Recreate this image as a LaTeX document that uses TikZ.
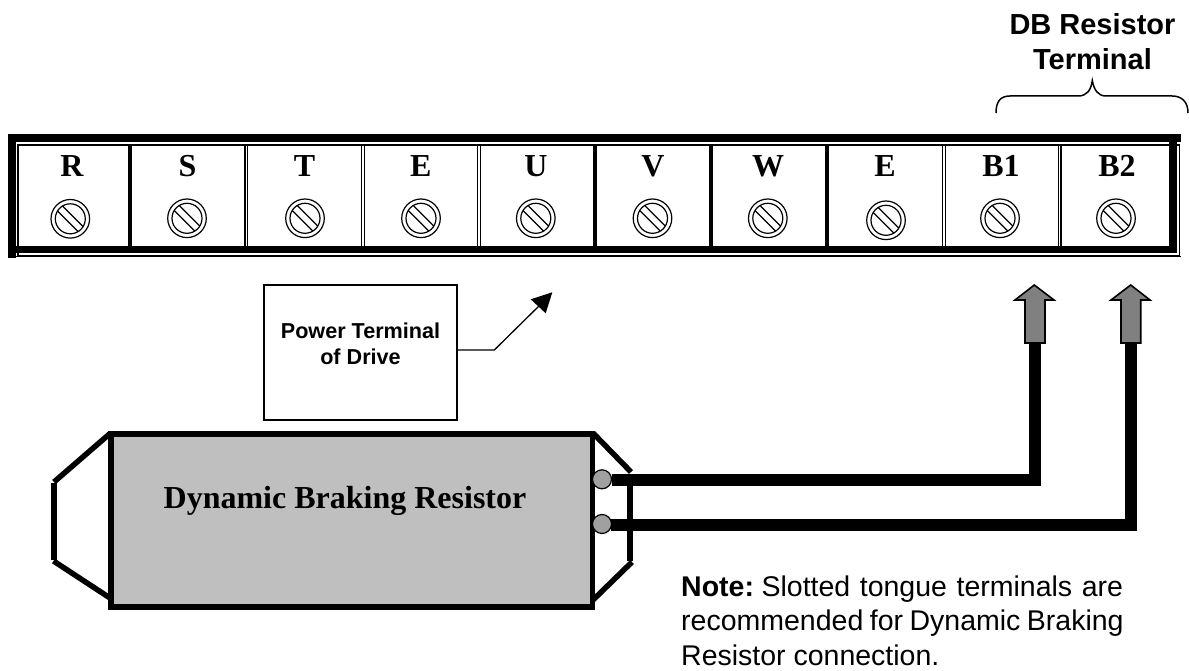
\documentclass[tikz,border=0pt]{standalone}
\usepackage{fontspec}
\setmainfont{Liberation Serif}
\setsansfont{Liberation Sans}
\definecolor{casefill}{HTML}{BFBFBF}
\definecolor{pinfill}{HTML}{A0A0A0}
\definecolor{arrowfill}{HTML}{808080}
\tikzset{
 x=1pt,y=-1pt,
 divider/.style={line width=1.2pt,draw=black},
 tlabel/.style={font=\bfseries\fontsize{32}{32}\selectfont,inner sep=0pt},
 wire/.style={line width=12pt,line join=miter},
 pin/.style={circle,draw=black,line width=1.2pt,fill=pinfill,minimum size=19pt,inner sep=0pt},
 upshape/.style={draw=black,line width=1.6pt,fill=arrowfill,line join=miter},
 casing/.style={line width=5.5pt,draw=black,line cap=butt},
}
\newcommand{\screw}[2]{%
 \draw[line width=1.2pt] (#1,#2) circle (19.3pt);
 \draw[line width=1.2pt] (#1,#2) circle (15pt);
 \draw[line width=1.2pt] (#1-7.8,#2-12.8) -- (#1+12.8,#2+7.8);
 \draw[line width=1.2pt] (#1-12.8,#2-7.8) -- (#1+7.8,#2+12.8);
}
\newcommand{\doublediv}[1]{%
  \draw[divider] (#1-1.4,146) -- (#1-1.4,246);
  \draw[divider] (#1+1.4,146) -- (#1+1.4,246);
}
\newcommand{\soliddiv}[1]{\fill (#1-2,146) rectangle (#1+2,246);}
\begin{document}
\begin{tikzpicture}
\useasboundingbox (0,0) rectangle (1189,671);
% terminal strip
\draw[line width=1.6pt] (18,144.8) rectangle (1179.6,256);
\fill (7.5,134) rectangle (1181,142.3);
\fill (7.5,134) rectangle (16,258);
\fill (7.5,256) rectangle (1181,257.5);
\fill (16,245.7) rectangle (1177.3,253.3);
\fill (1169.3,142.3) rectangle (1177.3,253.3);
% dividers
\soliddiv{129.7}
\doublediv{246.3}
\doublediv{362.7}
\doublediv{479}
\soliddiv{594.7}
\soliddiv{710.8}
\soliddiv{826.9}
\doublediv{943.7}
\doublediv{1059.5}
% labels and screws
\foreach \x/\sx/\sy/\t/\n in {72/70.3/218.8/R/lr,187.5/187/218.3/S/ls,304.5/305/218.3/T/lt,420.7/421/218.3/E/le,536/535.8/218.3/U/lu,653/652.5/218.3/V/lv,768/767.8/218.3/W/lw,885/886/220.3/E/lf,1001/1000/218.3/B1/lb,1117/1116/218.3/B2/lc}{
  \node[tlabel] (\n) at (\x,166) {\t};
  \screw{\sx}{\sy}
}
% brace
\node[font=\sffamily\bfseries\fontsize{29}{35}\selectfont,align=center,inner sep=0pt] (db) at (1092.5,42) {DB Resistor\\Terminal};
\draw[line width=1.5pt] (996,113) .. controls (996,102) and (1000,96) .. (1010,96)
  -- (1078,96) .. controls (1087,96) and (1091,90) .. (1092.3,80.5)
  .. controls (1094,90) and (1098,96) .. (1106,96) -- (1172,96)
  .. controls (1182,96) and (1188,102) .. (1188,113);
% power terminal box
\node[draw=black,line width=1.4pt,minimum width=193pt,minimum height=135pt,inner sep=0pt] (ptbox) at (360.5,352.5) {};
\node[font=\sffamily\bfseries\fontsize{21.6}{26}\selectfont,align=center,inner sep=0pt] (pt) at (360.5,344) {Power Terminal\\of Drive};
\coordinate (ptstart) at (ptbox.east |- 0,350);
\coordinate (ptbend) at (494.3,350);
\coordinate (pttip) at (552.3,292.3);
\draw[line width=1.3pt] (ptstart) -- (ptbend) -- (541,304);
\fill (pttip) -- (530.7,299.3) -- (545.7,313.3) -- cycle;
% resistor
\fill[casefill] (111,434) rectangle (592.5,607);
\draw[line width=5.7pt] (111.3,433.8) rectangle (592.5,607.2);
\draw[casing] (110,433.5) -- (54,482);
\draw[line width=6.5pt] (54.2,483) -- (54.2,560);
\draw[casing] (53.5,561) -- (110,598);
\draw[casing] (593,433) -- (631,472);
\draw[line width=6pt] (630,484) -- (630,561);
\draw[casing] (632,562) -- (593,600);
\node[font=\bfseries\fontsize{32}{32}\selectfont,inner sep=0pt] (res) at (345,500.5) {Dynamic Braking Resistor};
% arrows and wires
\coordinate (a1) at (1034.3,285);
\coordinate (a2) at (1130.7,285);
\draw[upshape] (a1) -- (1054,300) -- (1045,300) -- (1045,343) -- (1025,343) -- (1025,300) -- (1015,300) -- cycle;
\draw[upshape] (a2) -- (1150,300) -- (1140.7,300) -- (1140.7,343) -- (1121,343) -- (1121,300) -- (1111,300) -- cycle;
\node[pin] (p1) at (602,479.3) {};
\node[pin] (p2) at (602,524) {};
\draw[wire] (p1.east -| 611.7,0) ++(0,0.7) -- (1034.5,480) -- (1034.5,344);
\draw[wire] (p2.east -| 610.7,0) ++(0,1) -- (1131,525) -- (1131,344);
% note
\node[font=\sffamily\fontsize{28.5}{34.3}\selectfont,align=left,anchor=north west,inner sep=0pt] (note) at (681,575.7)
 {\textbf{Note:}\hspace{-3pt} {\spaceskip=9.6pt Slotted tongue terminals are}\\{\spaceskip=6.5pt recommended for Dynamic Braking}\\Resistor connection.};
\end{tikzpicture}
\end{document}
